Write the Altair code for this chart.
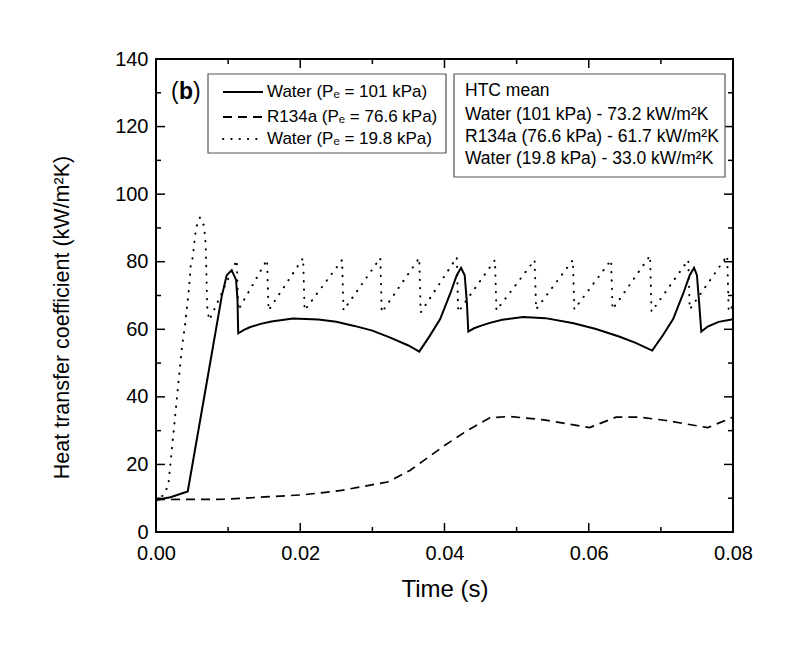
import altair as alt
import pandas as pd

# Time (s) and heat transfer coefficient (kW/m²K) for each case
water101_t = [0.0, 0.002, 0.0044, 0.0077, 0.0091, 0.0098, 0.0105, 0.0111, 0.0113, 0.0114,
              0.0122, 0.013, 0.0145, 0.016, 0.019, 0.0225, 0.0250, 0.0275, 0.0300, 0.0324,
              0.0350, 0.0365,
              0.0380, 0.0394, 0.0408, 0.0417, 0.0423, 0.0428, 0.0431, 0.0433,
              0.0441, 0.0450, 0.0463, 0.0480, 0.0509, 0.0540, 0.0579, 0.0610, 0.0643,
              0.0665, 0.0688,
              0.0703, 0.0717, 0.0731, 0.0740, 0.0746, 0.0750, 0.0753, 0.0756,
              0.0765, 0.0780, 0.0800]
water101_h = [9.5, 10.3, 12.0, 52.4, 69.6, 76.0, 77.5, 74.6, 68.7, 58.8,
              59.8, 60.6, 61.6, 62.3, 63.2, 62.9, 62.2, 61.0, 59.6, 57.6,
              55.2, 53.4,
              58.2, 63.0, 70.6, 76.0, 78.2, 76.0, 68.0, 59.3,
              60.3, 61.0, 61.9, 62.8, 63.6, 63.3, 61.8, 60.1, 57.8,
              56.0, 53.7,
              58.3, 63.0, 70.6, 76.0, 78.2, 76.0, 68.0, 59.3,
              60.8, 62.2, 63.0]

r134a_t = [0.0, 0.0098, 0.0151, 0.0204, 0.0257, 0.0321, 0.0352, 0.0400, 0.0432, 0.0463,
           0.0490, 0.0538, 0.0601, 0.0638, 0.0670, 0.0707, 0.0765, 0.0800]
r134a_h = [9.6, 9.7, 10.4, 11.0, 12.3, 14.8, 18.2, 25.6, 30.1, 33.8,
           34.2, 33.2, 30.9, 34.0, 34.0, 33.0, 30.9, 34.0]

# low-pressure water: start-up overshoot, then a sawtooth of peaks and sudden drops
water19_start_t = [0.0, 0.0010, 0.0017, 0.0036, 0.0040, 0.0043, 0.0046, 0.0048, 0.0051,
                   0.0054, 0.0056, 0.0061, 0.0066, 0.0068, 0.0069, 0.0070, 0.0071,
                   0.0073, 0.0074]
water19_start_h = [9.0, 10.9, 13.7, 54.8, 60.8, 66.7, 72.6, 78.5, 81.5,
                   87.4, 90.4, 93.1, 90.9, 87.9, 84.4, 75.6, 66.7,
                   63.7, 62.7]
water19_peak_t = [0.0112, 0.0154, 0.0204, 0.0258, 0.0311, 0.0365, 0.0417, 0.0470,
                  0.0525, 0.0578, 0.0631, 0.0685, 0.0738, 0.0792]
water19_peak_h = [80.5, 80.6, 81.1, 80.5, 81.1, 81.1, 81.3, 80.5,
                  80.5, 80.5, 80.5, 81.8, 80.5, 81.8]
water19_drop_t = [0.0114, 0.0156, 0.0206, 0.0260, 0.0313, 0.0367, 0.0419, 0.0472,
                  0.0527, 0.0580, 0.0633, 0.0687, 0.0740, 0.0794]
water19_drop_h = [65.7, 65.6, 65.6, 65.6, 65.0, 65.0, 65.1, 65.6,
                  65.9, 65.9, 65.9, 65.2, 65.9, 65.2]
water19_end_t = [0.0800]
water19_end_h = [67.0]

x_major = [0.0, 0.02, 0.04, 0.06, 0.08]
x_minor = [0.01, 0.03, 0.05, 0.07]
y_major = [0, 20, 40, 60, 80, 100, 120, 140]
y_minor = [10, 30, 50, 70, 90, 110, 130]

legend_labels = ["Water (P\u2091 = 101 kPa)", "R134a (P\u2091 = 76.6 kPa)", "Water (P\u2091 = 19.8 kPa)"]
htc_lines = ["HTC mean",
             "Water (101 kPa) - 73.2 kW/m\u00b2K",
             "R134a (76.6 kPa) - 61.7 kW/m\u00b2K",
             "Water (19.8 kPa) - 33.0 kW/m\u00b2K"]

W, H = 577, 473
FONT = "Liberation Sans"
DOTS = [0.3, 8]

# assemble the low-pressure series in drawing order
w19_t = list(water19_start_t)
w19_h = list(water19_start_h)
for pt, ph, dt, dh in zip(water19_peak_t, water19_peak_h, water19_drop_t, water19_drop_h):
    w19_t += [pt, dt]
    w19_h += [ph, dh]
w19_t += water19_end_t
w19_h += water19_end_h

df101 = pd.DataFrame({"t": water101_t, "h": water101_h, "i": range(len(water101_t))})
dfr = pd.DataFrame({"t": r134a_t, "h": r134a_h, "i": range(len(r134a_t))})
df19 = pd.DataFrame({"t": w19_t, "h": w19_h, "i": range(len(w19_t))})

x_axis = alt.Axis(values=x_major, format=".2f", title="Time (s)", grid=False, ticks=False,
                  tickSize=0, domain=False, labelFont=FONT, labelFontSize=20, labelColor="black",
                  labelPadding=11, titleFont=FONT, titleFontSize=24, titleFontWeight="normal",
                  titleColor="black", titlePadding=14, labelFlush=False)
y_axis = alt.Axis(values=y_major, title="Heat transfer coefficient (kW/m\u00b2K)", grid=False,
                  ticks=False, tickSize=0, domain=False, labelFont=FONT, labelFontSize=20,
                  labelColor="black", labelPadding=8, titleFont=FONT, titleFontSize=21.5,
                  titleFontWeight="normal", titleColor="black", titlePadding=41,
                  titleY=258, labelFlush=False)
x_scale = alt.Scale(domain=[0, 0.08], nice=False, zero=False)
y_scale = alt.Scale(domain=[0, 140], nice=False, zero=False)


def X(field="t"):
    return alt.X(f"{field}:Q", scale=x_scale, axis=x_axis)


def Y(field="h"):
    return alt.Y(f"{field}:Q", scale=y_scale, axis=y_axis)


solid = alt.Chart(df101).mark_line(color="black", strokeWidth=2).encode(x=X(), y=Y(), order="i:Q")
dashed = alt.Chart(dfr).mark_line(color="black", strokeWidth=1.7, strokeDash=[9, 6]).encode(
    x=X(), y=Y(), order="i:Q")
dotted = alt.Chart(df19).mark_line(color="black", strokeWidth=2, strokeDash=DOTS,
                                   strokeCap="round").encode(x=X(), y=Y(), order="i:Q")

# inward ticks on all four sides
xmaj = pd.DataFrame({"t": x_major})
xmin = pd.DataFrame({"t": x_minor})
ymaj = pd.DataFrame({"h": y_major})
ymin = pd.DataFrame({"h": y_minor})
tick_style = dict(color="black", strokeWidth=1.5)
ticks = [
    alt.Chart(xmaj).mark_rule(**tick_style).encode(x=X(), y=alt.value(H), y2=alt.value(H - 9)),
    alt.Chart(xmin).mark_rule(**tick_style).encode(x=X(), y=alt.value(H), y2=alt.value(H - 5)),
    alt.Chart(xmaj).mark_rule(**tick_style).encode(x=X(), y=alt.value(0), y2=alt.value(9)),
    alt.Chart(xmin).mark_rule(**tick_style).encode(x=X(), y=alt.value(0), y2=alt.value(5)),
    alt.Chart(ymaj).mark_rule(**tick_style).encode(y=Y(), x=alt.value(0), x2=alt.value(9)),
    alt.Chart(ymin).mark_rule(**tick_style).encode(y=Y(), x=alt.value(0), x2=alt.value(5)),
    alt.Chart(ymaj).mark_rule(**tick_style).encode(y=Y(), x=alt.value(W), x2=alt.value(W - 9)),
    alt.Chart(ymin).mark_rule(**tick_style).encode(y=Y(), x=alt.value(W), x2=alt.value(W - 5)),
]

one = pd.DataFrame({"k": [0]})


def box(x1, y1, x2, y2):
    return alt.Chart(one).mark_rect(fill="white", stroke="#555555", strokeWidth=1.2).encode(
        x=alt.value(x1), x2=alt.value(x2), y=alt.value(y1), y2=alt.value(y2))


def label(txt, x, y, size=17, weight="normal"):
    return alt.Chart(one).mark_text(align="left", baseline="middle", font=FONT, fontSize=size,
                                    fontWeight=weight, color="black").encode(
        x=alt.value(x), y=alt.value(y), text=alt.value(txt))


legend_rows_y = [33, 58, 80]
legend_layers = [box(52, 15, 290, 94)]
dash_styles = [None, [9, 6], DOTS]
for lbl, yy, dash in zip(legend_labels, legend_rows_y, dash_styles):
    kw = dict(color="black", strokeWidth=2)
    if dash is not None:
        kw.update(strokeDash=dash, strokeCap="round" if dash[0] < 1 else "butt")
    legend_layers.append(alt.Chart(one).mark_rule(**kw).encode(
        x=alt.value(67), x2=alt.value(107), y=alt.value(yy)))
    legend_layers.append(label(lbl, 111, yy))

htc_layers = [box(298, 15, 569, 118)]
for txt, yy in zip(htc_lines, [32, 56, 78, 100]):
    htc_layers.append(label(txt, 309, yy, size=17.5))

panel = [label("(", 15, 33, size=23), label("b", 23, 33, size=23, weight="bold"),
         label(")", 37, 33, size=23)]

chart = alt.layer(solid, dashed, dotted, *ticks, *legend_layers, *htc_layers, *panel).properties(
    width=W, height=H,
    autosize=alt.AutoSizeParams(type="none"),
    padding={"left": 156, "top": 59, "right": 67, "bottom": 116},
    background="white",
).configure_view(stroke="black", strokeWidth=2)

chart.save("out.html", embed_options={"renderer": "svg", "actions": False})
